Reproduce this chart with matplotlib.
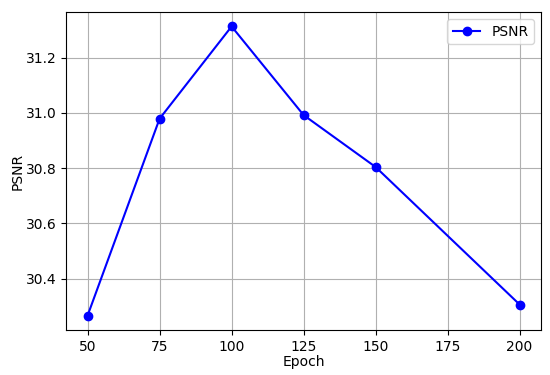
import matplotlib
matplotlib.use("Agg")
import matplotlib.pyplot as plt

# epoch vs psnr
epochs = [50, 75, 100, 125, 150, 200]
psnr = [30.266, 30.979, 31.313, 30.992, 30.804, 30.306]

fig, ax = plt.subplots(figsize=(5.5, 3.75), dpi=100)
ax.plot(epochs, psnr, "o-", color="blue", label="PSNR")
ax.set_xlabel("Epoch", labelpad=1)
ax.set_ylabel("PSNR", labelpad=1)
ax.set_xticks([50, 75, 100, 125, 150, 175, 200])
ax.set_yticks([30.4, 30.6, 30.8, 31.0, 31.2])
ax.legend(loc="upper right")
ax.grid(True)
fig.subplots_adjust(left=0.12, right=0.984, top=0.968, bottom=0.12)
fig.savefig("out.png")
